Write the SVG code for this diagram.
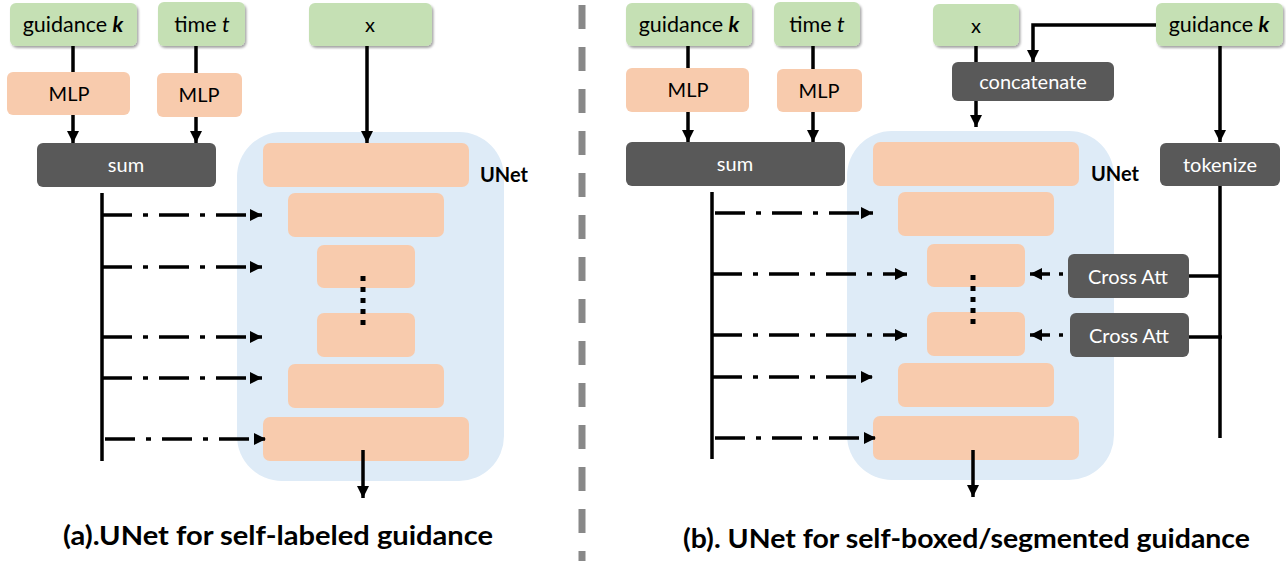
<svg xmlns="http://www.w3.org/2000/svg" width="1286" height="561" viewBox="0 0 1286 561">
<style>
.g{fill:#c5e0b4}
.p{fill:#f8cbad}
.d{fill:#595959}
.bg{fill:#deebf7}
.t{font-family:Lato,"Liberation Sans",sans-serif;font-size:20px;fill:#000;text-anchor:middle}
.gt{font-size:21.5px}
.w{fill:#fff}
.b{font-weight:bold}
.ln{stroke:#000;stroke-width:3.5;fill:none}
.dd{stroke:#000;stroke-width:3.5;fill:none;stroke-dasharray:30 11 5 11}
.dot{stroke:#000;stroke-width:5;fill:none;stroke-dasharray:5 6}
.cap{font-family:Lato,"Liberation Sans",sans-serif;font-size:27px;font-weight:bold;fill:#000}
</style>
<defs>
<marker id="ah" markerUnits="userSpaceOnUse" markerWidth="12" markerHeight="12" viewBox="0 0 12 12" refX="12" refY="6" orient="auto"><path d="M0,0 L12,6 L0,12 z" fill="#000"/></marker>
<filter id="sh" x="-10%" y="-10%" width="130%" height="140%"><feDropShadow dx="1.5" dy="2" stdDeviation="1.2" flood-color="#000" flood-opacity="0.35"/></filter>
</defs>
<rect width="1286" height="561" fill="#fff"/>
<line x1="582" y1="5" x2="582" y2="561" stroke="#888" stroke-width="7" stroke-dasharray="24 18"/>

<!-- Left panel -->
<g id="unet-a">
<rect class="bg" x="237" y="132" width="267" height="349" rx="45"/>
<text class="t b" x="480" y="182" style="text-anchor:start">UNet</text>
</g>
<g id="a-blk1"><rect class="p" x="263" y="143" width="206" height="44" rx="7"/></g>
<g id="a-blk2"><rect class="p" x="288" y="193" width="156" height="44" rx="7"/></g>
<g id="a-blk3"><rect class="p" x="317" y="245" width="98" height="43" rx="7"/></g>
<g id="a-blk4"><rect class="p" x="317" y="313" width="98" height="44" rx="7"/></g>
<g id="a-blk5"><rect class="p" x="288" y="364" width="156" height="44" rx="7"/></g>
<g id="a-blk6"><rect class="p" x="263" y="417" width="206" height="44" rx="7"/></g>
<g id="a-guid"><rect class="g" x="10" y="3" width="127" height="43" rx="6" filter="url(#sh)"/><text class="t gt" x="73" y="32">guidance <tspan font-weight="bold" font-style="italic">k</tspan></text></g>
<g id="a-time"><rect class="g" x="158" y="2" width="87" height="44" rx="6" filter="url(#sh)"/><text class="t gt" x="202" y="32">time <tspan font-style="italic">t</tspan></text></g>
<g id="a-x"><rect class="g" x="309" y="3" width="123" height="43" rx="6" filter="url(#sh)"/><text class="t" x="370" y="32">x</text></g>
<g id="a-mlp1"><rect class="p" x="7" y="72" width="123" height="43" rx="6"/><text class="t" x="69" y="101">MLP</text></g>
<g id="a-mlp2"><rect class="p" x="157" y="73" width="85" height="44" rx="6"/><text class="t" x="199" y="102">MLP</text></g>
<g id="a-sum"><rect class="d" x="37" y="143" width="179" height="44" rx="6"/><text class="t w" x="126" y="172">sum</text></g>

<!-- Right panel -->
<g id="unet-b">
<rect class="bg" x="847" y="131" width="267" height="349" rx="45"/>
<text class="t b" x="1091" y="181" style="text-anchor:start">UNet</text>
</g>
<g id="b-blk1"><rect class="p" x="873" y="142" width="206" height="44" rx="7"/></g>
<g id="b-blk2"><rect class="p" x="898" y="192" width="156" height="44" rx="7"/></g>
<g id="b-blk3"><rect class="p" x="927" y="244" width="98" height="43" rx="7"/></g>
<g id="b-blk4"><rect class="p" x="927" y="312" width="98" height="44" rx="7"/></g>
<g id="b-blk5"><rect class="p" x="898" y="363" width="156" height="44" rx="7"/></g>
<g id="b-blk6"><rect class="p" x="873" y="416" width="206" height="44" rx="7"/></g>
<g id="b-guid"><rect class="g" x="626" y="3" width="126" height="43" rx="6" filter="url(#sh)"/><text class="t gt" x="689" y="32">guidance <tspan font-weight="bold" font-style="italic">k</tspan></text></g>
<g id="b-time"><rect class="g" x="774" y="2" width="86" height="44" rx="6" filter="url(#sh)"/><text class="t gt" x="817" y="32">time <tspan font-style="italic">t</tspan></text></g>
<g id="b-x"><rect class="g" x="933" y="4" width="86" height="42" rx="6" filter="url(#sh)"/><text class="t" x="976" y="33">x</text></g>
<g id="b-guid2"><rect class="g" x="1156" y="3" width="127" height="43" rx="6" filter="url(#sh)"/><text class="t gt" x="1219" y="32">guidance <tspan font-weight="bold" font-style="italic">k</tspan></text></g>
<g id="b-mlp1"><rect class="p" x="626" y="68" width="123" height="44" rx="6"/><text class="t" x="688" y="97">MLP</text></g>
<g id="b-mlp2"><rect class="p" x="777" y="69" width="85" height="43" rx="6"/><text class="t" x="819" y="98">MLP</text></g>
<g id="b-sum"><rect class="d" x="626" y="142" width="219" height="44" rx="6"/><text class="t w" x="735" y="171">sum</text></g>
<g id="b-concat"><rect class="d" x="952" y="62" width="162" height="39" rx="6"/><text class="t w" x="1033" y="89">concatenate</text></g>
<g id="b-token"><rect class="d" x="1160" y="143" width="120" height="43" rx="6"/><text class="t w" x="1220" y="172">tokenize</text></g>
<g id="b-ca1"><rect class="d" x="1068" y="254" width="121" height="44" rx="6"/><text class="t w" x="1128" y="284">Cross Att</text></g>
<g id="b-ca2"><rect class="d" x="1070" y="313" width="119" height="44" rx="6"/><text class="t w" x="1129" y="343">Cross Att</text></g>

<g id="connectors">
<!-- left -->
<line class="ln" x1="73" y1="46" x2="73" y2="72"/>
<line class="ln" x1="73" y1="115" x2="73" y2="143" marker-end="url(#ah)"/>
<line class="ln" x1="196" y1="46" x2="196" y2="73"/>
<line class="ln" x1="196" y1="117" x2="196" y2="143" marker-end="url(#ah)"/>
<line class="ln" x1="367" y1="46" x2="367" y2="143" marker-end="url(#ah)"/>
<line class="ln" x1="102" y1="193" x2="102" y2="461"/>
<line class="dd" x1="102" y1="215" x2="262" y2="215" marker-end="url(#ah)"/>
<line class="dd" x1="102" y1="267" x2="262" y2="267" marker-end="url(#ah)"/>
<line class="dd" x1="102" y1="337" x2="262" y2="337" marker-end="url(#ah)"/>
<line class="dd" x1="102" y1="378" x2="262" y2="378" marker-end="url(#ah)"/>
<line class="dd" x1="105" y1="439" x2="266" y2="439" marker-end="url(#ah)"/>
<line class="dot" x1="363" y1="276" x2="363" y2="328"/>
<line class="ln" x1="363" y1="450" x2="363" y2="498" marker-end="url(#ah)"/>
<!-- right -->
<line class="ln" x1="688" y1="46" x2="688" y2="68"/>
<line class="ln" x1="688" y1="112" x2="688" y2="142" marker-end="url(#ah)"/>
<line class="ln" x1="813" y1="46" x2="813" y2="69"/>
<line class="ln" x1="813" y1="112" x2="813" y2="142" marker-end="url(#ah)"/>
<line class="ln" x1="976" y1="46" x2="976" y2="62"/>
<polyline class="ln" points="1156,25 1033,25 1033,62" marker-end="url(#ah)"/>
<line class="ln" x1="976" y1="101" x2="976" y2="127" marker-end="url(#ah)"/>
<line class="ln" x1="1220" y1="46" x2="1220" y2="142" marker-end="url(#ah)"/>
<line class="ln" x1="1220" y1="186" x2="1220" y2="438"/>
<line class="ln" x1="1189" y1="276" x2="1220" y2="276"/>
<line class="ln" x1="1189" y1="337" x2="1222" y2="337"/>
<line class="ln" x1="712" y1="192" x2="712" y2="459"/>
<line class="dd" x1="715" y1="213" x2="873" y2="213" marker-end="url(#ah)"/>
<line class="dd" x1="712" y1="274" x2="907" y2="274" marker-end="url(#ah)"/>
<line class="dd" x1="712" y1="335" x2="907" y2="335" marker-end="url(#ah)"/>
<line class="dd" x1="712" y1="377" x2="873" y2="377" marker-end="url(#ah)"/>
<line class="dd" x1="715" y1="438" x2="876" y2="438" marker-end="url(#ah)"/>
<line class="ln" x1="1063" y1="274" x2="1030" y2="274" stroke-dasharray="4 9 40" marker-end="url(#ah)"/>
<line class="ln" x1="1063" y1="335" x2="1030" y2="335" stroke-dasharray="4 9 40" marker-end="url(#ah)"/>
<line class="dot" x1="973" y1="275" x2="973" y2="328"/>
<line class="ln" x1="973" y1="450" x2="973" y2="497" marker-end="url(#ah)"/>
</g>

<text class="cap" x="63" y="545" textLength="430" lengthAdjust="spacingAndGlyphs">(a).UNet for self-labeled guidance</text>
<text class="cap" x="683" y="548" textLength="567" lengthAdjust="spacingAndGlyphs">(b). UNet for self-boxed/segmented guidance</text>
</svg>
